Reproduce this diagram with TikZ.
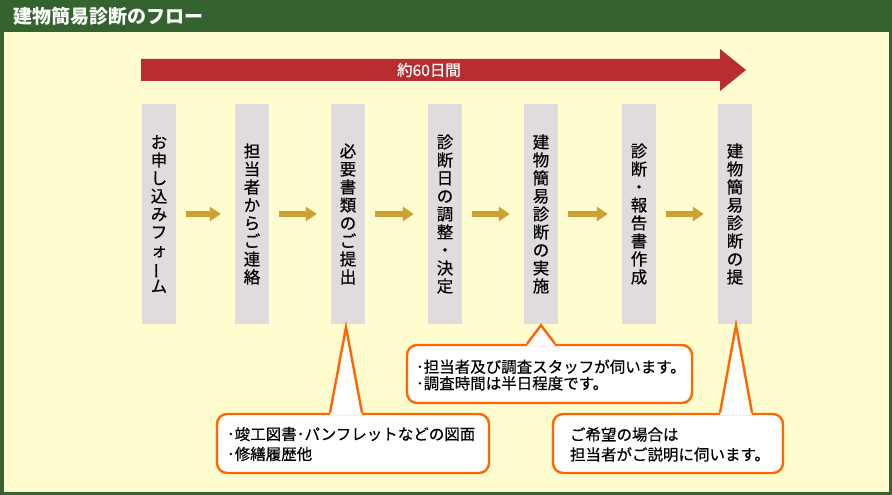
\documentclass[tikz,border=0pt]{standalone}
\usepackage{fontspec}
\usepackage{graphicx}
\setmainfont{Noto Sans CJK JP}
\newfontfamily\jpmed{Noto Sans CJK JP}[FakeBold=0.5]
\usetikzlibrary{arrows.meta,calc}
\definecolor{frameG}{RGB}{52,99,47}
\definecolor{bgY}{RGB}{255,252,208}
\definecolor{barR}{RGB}{184,45,48}
\definecolor{boxG}{RGB}{224,220,222}
\definecolor{goldA}{RGB}{204,160,52}
\definecolor{orngC}{RGB}{255,102,0}
\newcommand\vbar{\rotatebox[origin=c]{90}{ー}}
\newcommand\callptr[3]{%
  \fill[white] ($(#1 |- #2.north)+(-#3,2)$) -- (#1) -- ($(#1 |- #2.north)+(#3,2)$) -- cycle;
  \draw[cline] ($(#1 |- #2.north)+(-#3,0)$) -- (#1) -- ($(#1 |- #2.north)+(#3,0)$);}
\begin{document}
\begin{tikzpicture}[x=1pt,y=-1pt,
  titletext/.style={text=white,font=\fontsize{19}{20}\selectfont\bfseries,anchor=west,inner sep=0},
  barlabel/.style={text=white,font=\jpmed\fontsize{15.5}{16}\selectfont,inner sep=0},
  stepbox/.style={fill=boxG,minimum width=34pt,minimum height=220pt,inner sep=0,align=center,
     font=\jpmed\fontsize{16.5}{18}\selectfont},
  flowarrow/.style={draw=goldA,line width=5.5pt,-{Triangle[length=11pt,width=14pt]}},
  cline/.style={draw=orngC,line width=2.4pt,line join=miter},
  callout/.style={cline,fill=white,rounded corners=10pt,inner sep=0},
  ctext/.style={anchor=west,align=left,inner sep=0,font=\jpmed\fontsize{15.5}{20}\selectfont}]
\useasboundingbox (0,0) rectangle (892,495);
\fill[frameG] (0,0) rectangle (892,495);
\fill[bgY] (3.5,32) rectangle (888.5,491.5);
\node[titletext] (title) at (13,16) {建物簡易診断のフロー};
% red period arrow
\fill[barR] (141,59) -- (720,59) -- (720,49) -- (746,70) -- (720,91) -- (720,81) -- (141,81) -- cycle;
\node[barlabel] (period) at (429,70) {約60日間};
% steps
\node[stepbox] (b1) at (159,214) {お\\申\\し\\込\\み\\フ\\ォ\\\vbar\\ム};
\node[stepbox] (b2) at (252,214) {担\\当\\者\\か\\ら\\ご\\連\\絡};
\node[stepbox] (b3) at (348,214) {必\\要\\書\\類\\の\\ご\\提\\出};
\node[stepbox] (b4) at (445,214) {診\\断\\日\\の\\調\\整\\・\\決\\定};
\node[stepbox] (b5) at (541,214) {建\\物\\簡\\易\\診\\断\\の\\実\\施};
\node[stepbox] (b6) at (639,214) {診\\断\\・\\報\\告\\書\\作\\成};
\node[stepbox] (b7) at (735,214) {建\\物\\簡\\易\\診\\断\\の\\提};
\foreach \a/\b in {b1/b2,b2/b3,b3/b4,b4/b5,b5/b6,b6/b7}
  \draw[flowarrow] ([xshift=10pt]\a.east) -- ([xshift=-14pt]\b.west);
% callouts
\node[callout,minimum width=272pt,minimum height=59pt] (c1) at (353,443.5) {};
\node[callout,minimum width=285pt,minimum height=58pt] (c2) at (549.5,374) {};
\node[callout,minimum width=230pt,minimum height=59pt] (c3) at (668,443.5) {};
\coordinate (t1) at ($(b3.south)+(-2,3)$);
\coordinate (t2) at ($(b5.south)+(0,1)$);
\coordinate (t3) at ($(b7.south)+(1,1)$);
\callptr{t1}{c1}{16}
\callptr{t2}{c2}{14}
\callptr{t3}{c3}{16}
\node[ctext] (c1t) at ([xshift=11pt,yshift=-0.5pt]c1.west) {･竣工図書･パンフレットなどの図面\\･修繕履歴他};
\node[ctext,font=\jpmed\fontsize{15.5}{16.5}\selectfont] (c2t) at ([xshift=10pt,yshift=-1pt]c2.west) {･担当者及び調査スタッフが伺います。\\･調査時間は半日程度です。};
\node[ctext] (c3t) at ([xshift=18pt,yshift=-1pt]c3.west) {ご希望の場合は\\担当者がご説明に伺います。};
\end{tikzpicture}
\end{document}
